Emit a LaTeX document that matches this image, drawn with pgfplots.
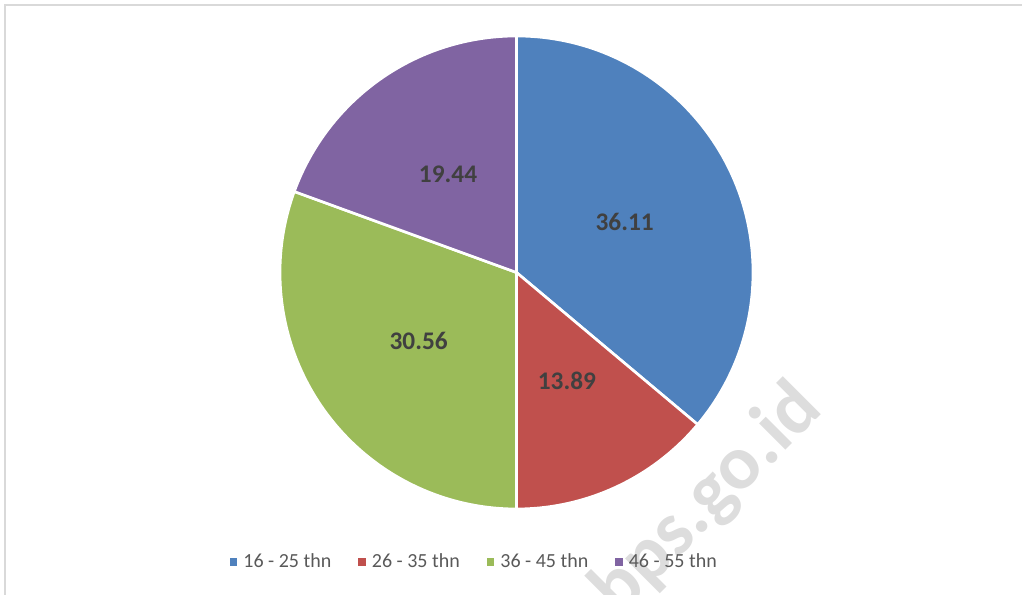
\documentclass[border=0pt]{standalone}
\usepackage{pgfplots}
\usepackage{pgfplotstable}
\pgfplotsset{compat=1.18}
\usepackage{fontspec}
\setmainfont{Carlito}
\definecolor{sBlue}{HTML}{4F81BD}
\definecolor{sRed}{HTML}{C0504D}
\definecolor{sGreen}{HTML}{9BBB59}
\definecolor{sPurple}{HTML}{8064A2}
\definecolor{lblgray}{HTML}{404040}
\definecolor{leggray}{HTML}{595959}
\definecolor{wmgray}{HTML}{DDDDDD}
\definecolor{bordergray}{HTML}{D9D9D9}
\pgfplotstableread{
value
36.11
13.89
30.56
19.44
}\piedata
\begin{document}
\begin{tikzpicture}
\pgfplotstablegetelem{0}{value}\of\piedata \let\vA\pgfplotsretval
\pgfplotstablegetelem{1}{value}\of\piedata \let\vB\pgfplotsretval
\pgfplotstablegetelem{2}{value}\of\piedata \let\vC\pgfplotsretval
\pgfplotstablegetelem{3}{value}\of\piedata \let\vD\pgfplotsretval
\pgfmathsetmacro\aO{90}
\pgfmathsetmacro\aA{\aO-3.6*\vA}
\pgfmathsetmacro\aB{\aA-3.6*\vB}
\pgfmathsetmacro\aC{\aB-3.6*\vC}
\pgfmathsetmacro\aD{\aC-3.6*\vD}
\def\cx{516.5}\def\cy{322.5}
\def\R{177.375pt}
\def\lr{119.4}
\begin{axis}[
  x=0.75pt, y=0.75pt,
  xmin=0, xmax=1022, ymin=0, ymax=595,
  hide axis, clip=false,
  legend columns=4,
  legend image code/.code={\fill (0pt,-2.6pt) rectangle (5.2pt,2.6pt); \path (8pt,0pt);},
  legend style={draw=none, fill=none, at={(axis cs:474.5,33)}, anchor=center,
    font=\fontsize{15}{17}\selectfont\color{leggray},
    /tikz/every even column/.append style={column sep=18pt}},
]
\coordinate (BL) at (axis cs:0,0);
\coordinate (TR) at (axis cs:1022,595);
\addlegendimage{sBlue, fill=sBlue}\addlegendentry{16 - 25 thn}
\addlegendimage{sRed, fill=sRed}\addlegendentry{26 - 35 thn}
\addlegendimage{sGreen, fill=sGreen}\addlegendentry{36 - 45 thn}
\addlegendimage{sPurple, fill=sPurple}\addlegendentry{46 - 55 thn}
\node[rotate=45, anchor=base, font=\bfseries\fontsize{57.5}{64}\selectfont, text=wmgray] at (axis cs:722,80.5) {bps.go.id};
\fill[sBlue, draw=white, line width=2pt, line join=round] (axis cs:\cx,\cy) -- ++(\aO:\R) arc[start angle=\aO, end angle=\aA, radius=\R] -- cycle;
\fill[sRed, draw=white, line width=2pt, line join=round] (axis cs:\cx,\cy) -- ++(\aA:\R) arc[start angle=\aA, end angle=\aB, radius=\R] -- cycle;
\fill[sGreen, draw=white, line width=2pt, line join=round] (axis cs:\cx,\cy) -- ++(\aB:\R) arc[start angle=\aB, end angle=\aC, radius=\R] -- cycle;
\fill[sPurple, draw=white, line width=2pt, line join=round] (axis cs:\cx,\cy) -- ++(\aC:\R) arc[start angle=\aC, end angle=\aD, radius=\R] -- cycle;
\pgfmathsetmacro\mA{(\aO+\aA)/2}
\pgfmathsetmacro\mB{(\aA+\aB)/2}
\pgfmathsetmacro\mC{(\aB+\aC)/2}
\pgfmathsetmacro\mD{(\aC+\aD)/2}
\node[font=\bfseries\fontsize{19}{22}\selectfont, text=lblgray] at (axis cs:{\cx+\lr*cos(\mA)},{\cy+\lr*sin(\mA)}) {\vA};
\node[font=\bfseries\fontsize{19}{22}\selectfont, text=lblgray] at (axis cs:{\cx+\lr*cos(\mB)},{\cy+\lr*sin(\mB)}) {\vB};
\node[font=\bfseries\fontsize{19}{22}\selectfont, text=lblgray] at (axis cs:{\cx+\lr*cos(\mC)},{\cy+\lr*sin(\mC)}) {\vC};
\node[font=\bfseries\fontsize{19}{22}\selectfont, text=lblgray] at (axis cs:{\cx+\lr*cos(\mD)},{\cy+\lr*sin(\mD)}) {\vD};
\draw[bordergray, line width=1.5pt] (axis cs:5,0) -- (axis cs:5,590) -- (axis cs:1022,590);
\end{axis}
\pgfresetboundingbox
\path (BL) rectangle (TR);
\end{tikzpicture}
\end{document}
